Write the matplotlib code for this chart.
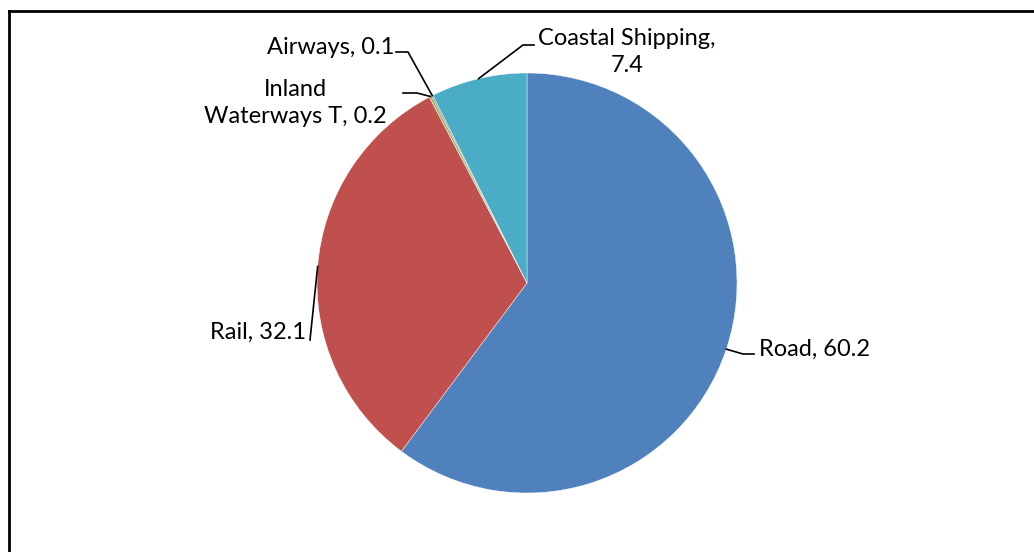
import numpy as np
import matplotlib.pyplot as plt
from matplotlib.lines import Line2D

# Data
labels = ['Road', 'Rail', 'Inland\nWaterways T', 'Airways', 'Coastal Shipping']
values = [60.2, 32.1, 0.2, 0.1, 7.4]
colors = ['#4F81BD', '#C0504D', '#9BBB59', '#8064A2', '#4BACC6']

W, H = 1034, 552
cx, cy, r = 527, 283, 210

plt.rcParams['font.family'] = ['Lato', 'DejaVu Sans']

fig = plt.figure(figsize=(W / 100, H / 100), dpi=100)
ax = fig.add_axes([0, 0, 1, 1])


def py(y):
    # pixel y (from top) -> data y
    return H - y


ax.pie(values, colors=colors, startangle=90, counterclock=False,
       radius=r, center=(cx, py(cy)), frame=True,
       wedgeprops=dict(linewidth=0.3, edgecolor='white'))
ax.set_xlim(0, W)
ax.set_ylim(0, H)
ax.set_aspect('equal')
ax.axis('off')

# mid angle of each wedge on the screen (degrees, maths convention)
tot = sum(values)
start = 90
mids = []
for v in values:
    span = 360 * v / tot
    mids.append(start - span / 2)
    start -= span

# label layout: (elbow points in pixels, text pos, ha, text)
layout = [
    ([(743, 354), (754, 354)], (759, 349), 'left', 'Road, 60.2'),
    ([(310, 340)], (306, 332), 'right', 'Rail, 32.1'),
    ([(417, 93), (403, 93)], (295, 103), 'center', 'Inland\nWaterways T, 0.2'),
    ([(408, 52), (396, 52)], (394, 47), 'right', 'Airways, 0.1'),
    ([(523, 45), (534, 45)], (627, 52), 'center', 'Coastal Shipping,\n7.4'),
]

for m, (pts, tpos, ha, txt) in zip(mids, layout):
    ex = cx + r * np.cos(np.radians(m))
    ey = cy - r * np.sin(np.radians(m))
    xs = [ex] + [p[0] for p in pts]
    ys = [py(ey)] + [py(p[1]) for p in pts]
    ax.plot(xs, ys, color='black', lw=1.2)
    ax.text(tpos[0], py(tpos[1]), txt, ha=ha, va='center', fontsize=17,
            multialignment='center', linespacing=1.35, color='black')

# chart border (only top and left visible)
fig.add_artist(Line2D([8.5 / W, 1], [1 - 10.5 / H, 1 - 10.5 / H], color='black', lw=2))
fig.add_artist(Line2D([8.5 / W, 8.5 / W], [0, 1 - 10.5 / H], color='black', lw=2))

fig.savefig('out.png', dpi=100)
